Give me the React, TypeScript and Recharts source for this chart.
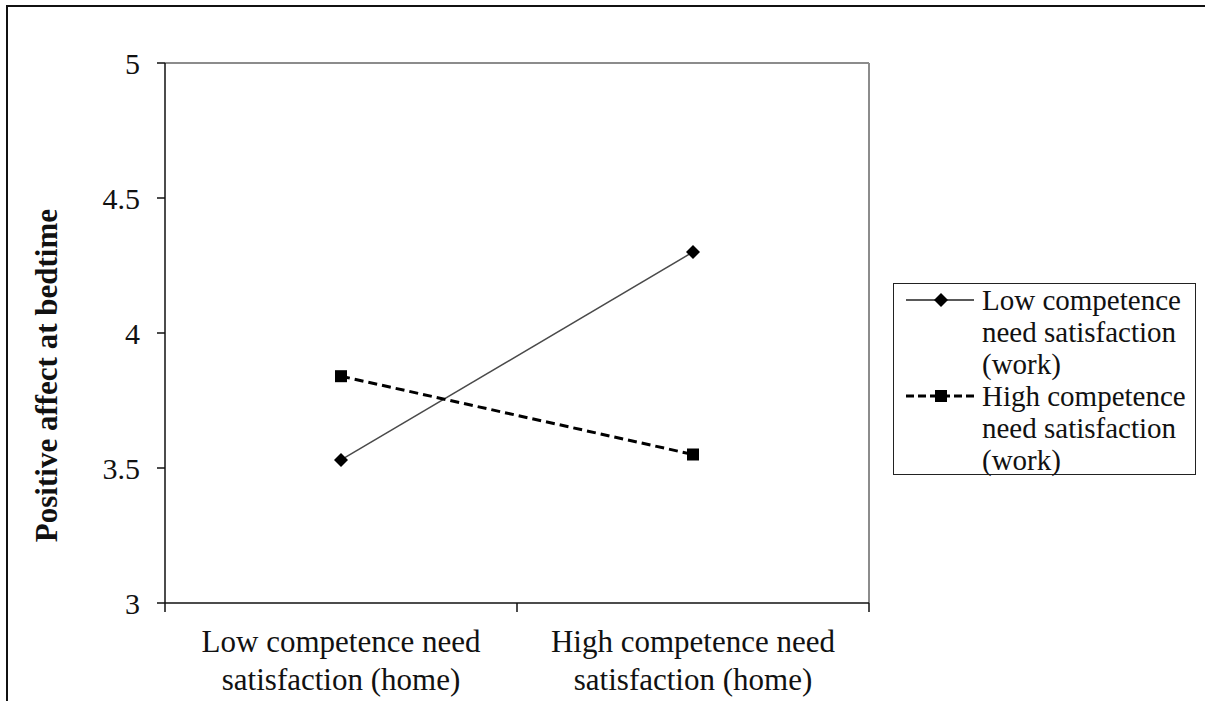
import type { ReactElement } from "react";
import { LineChart, Line, XAxis, YAxis, ReferenceLine, Label } from "recharts";

const homeCategories = [
  ["Low competence need", "satisfaction (home)"],
  ["High competence need", "satisfaction (home)"],
];
const lowWorkValues = [3.53, 4.3];
const highWorkValues = [3.84, 3.55];
const seriesLegend = [
  ["Low competence", "need satisfaction", "(work)"],
  ["High competence", "need satisfaction", "(work)"],
];
const yTicks = [3, 3.5, 4, 4.5, 5];
const yTitle = "Positive affect at bedtime";

const FONT = "Liberation Serif, Times New Roman, serif";

const data = homeCategories.map((cat, i) => ({
  pos: i + 0.5,
  name: cat.join(" "),
  low: lowWorkValues[i],
  high: highWorkValues[i],
}));

const xTicks = [0, 0.5, 1, 1.5, 2];

function CategoryTick(props: any): ReactElement {
  const { x, y, payload } = props;
  const v = payload.value as number;
  if (Number.isInteger(v)) {
    return <line x1={x} y1={y} x2={x} y2={y + 9} stroke="#111" strokeWidth={1.5} />;
  }
  const lines = homeCategories[Math.floor(v)];
  return (
    <text x={x} y={y} textAnchor="middle" style={{ fontFamily: FONT, fontSize: 31 }} fill="#111">
      {lines.map((l, i) => (
        <tspan key={i} x={x} dy={i === 0 ? 49 : 38}>
          {l}
        </tspan>
      ))}
    </text>
  );
}

function Diamond(props: any): ReactElement {
  const { cx, cy, index } = props;
  const r = 7;
  return (
    <path
      key={`d-${index}`}
      d={`M${cx},${cy - r}L${cx + r},${cy}L${cx},${cy + r}L${cx - r},${cy}Z`}
      fill="#000"
    />
  );
}

function Square(props: any): ReactElement {
  const { cx, cy, index } = props;
  const s = 6;
  return <rect key={`s-${index}`} x={cx - s} y={cy - s} width={s * 2} height={s * 2} fill="#000" />;
}

function YTitle(): ReactElement {
  return (
    <text
      x={57}
      y={209}
      transform="rotate(-90 57 209)"
      textAnchor="end"
      style={{ fontFamily: FONT, fontWeight: "bold", fontSize: 31 }}
      fill="#111"
    >
      {yTitle}
    </text>
  );
}

function LegendBox(): ReactElement {
  return (
    <div
      style={{
        position: "absolute",
        left: 893,
        top: 283,
        width: 301,
        height: 190,
        border: "1.5px solid #222",
        fontFamily: FONT,
        fontSize: 29,
        lineHeight: "32px",
        color: "#111",
      }}
    >
      {seriesLegend.map((lines, si) => (
        <div key={si} style={{ position: "relative", paddingLeft: 88 }}>
          <svg width={70} height={20} style={{ position: "absolute", left: 12, top: 6 }}>
            {si === 0 ? (
              <>
                <line x1={0} y1={10} x2={68} y2={10} stroke="#222" strokeWidth={1.5} />
                <path d="M35,3L42,10L35,17L28,10Z" fill="#000" />
              </>
            ) : (
              <>
                <line x1={0} y1={10} x2={68} y2={10} stroke="#000" strokeWidth={3} strokeDasharray="8 4" />
                <rect x={29} y={4} width={12} height={12} fill="#000" />
              </>
            )}
          </svg>
          {lines.map((l, li) => (
            <div key={li} style={{ whiteSpace: "nowrap" }}>
              {l}
            </div>
          ))}
        </div>
      ))}
    </div>
  );
}

export default function App(): ReactElement {
  return (
    <div
      style={{
        position: "absolute",
        left: 0,
        top: 0,
        width: 1205,
        height: 701,
        background: "#fff",
        overflow: "hidden",
        fontFamily: FONT,
      }}
    >
      <div
        style={{
          position: "absolute",
          left: 6,
          top: 5,
          width: 1205,
          height: 701,
          borderLeft: "2px solid #111",
          borderTop: "2px solid #111",
        }}
      />
      <LineChart
        width={1205}
        height={701}
        data={data}
        margin={{ top: 63, right: 336, left: 65, bottom: 0 }}
        style={{ position: "absolute", left: 0, top: 0, fontFamily: FONT }}
      >
        <ReferenceLine y={5} stroke="#8c8c8c" strokeWidth={2} />
        <ReferenceLine x={2} stroke="#8c8c8c" strokeWidth={2} />
        <XAxis
          type="number"
          dataKey="pos"
          domain={[0, 2]}
          ticks={xTicks}
          interval={0}
          tickLine={false}
          tickSize={0}
          tickMargin={0}
          height={98}
          axisLine={{ stroke: "#111", strokeWidth: 1.5 }}
          tick={<CategoryTick />}
        />
        <YAxis
          type="number"
          domain={[3, 5]}
          ticks={yTicks}
          interval={0}
          width={100}
          tickSize={8}
          tickMargin={17}
          tickFormatter={(v: number) => String(v)}
          axisLine={{ stroke: "#111", strokeWidth: 1.5 }}
          tickLine={{ stroke: "#111", strokeWidth: 1.5 }}
          tick={{ fontFamily: FONT, fontSize: 30, fill: "#111" }}
        >
          <Label content={<YTitle />} />
        </YAxis>
        <Line
          dataKey="low"
          name="Low competence need satisfaction (work)"
          stroke="#4a4a4a"
          strokeWidth={1.5}
          dot={<Diamond />}
          activeDot={false}
          isAnimationActive={false}
        />
        <Line
          dataKey="high"
          name="High competence need satisfaction (work)"
          stroke="#000"
          strokeWidth={3}
          strokeDasharray="9 5"
          dot={<Square />}
          activeDot={false}
          isAnimationActive={false}
        />
      </LineChart>
      <LegendBox />
    </div>
  );
}
